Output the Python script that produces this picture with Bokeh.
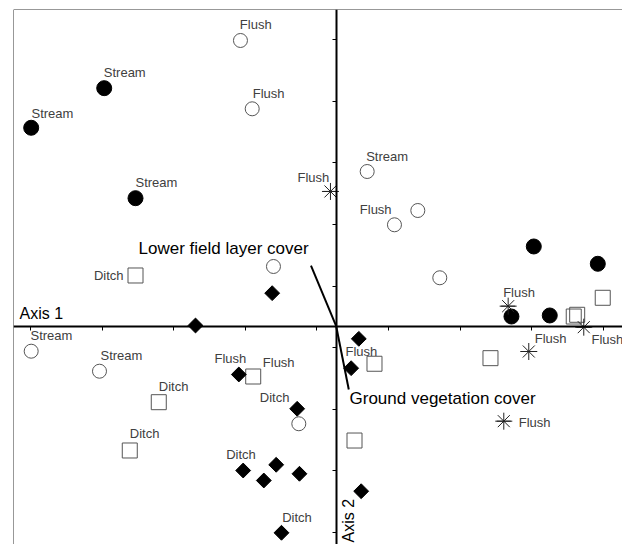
import numpy as np
from bokeh.plotting import figure
from bokeh.models import LinearAxis, FixedTicker, CustomJSTickFormatter, Span, Grid
from bokeh.core.properties import value
from bokeh.embed import file_html
from bokeh.resources import INLINE

# ---- sample scores (Axis 1, Axis 2) ----
filled_circle_x = [-3.240, -4.260, -2.803, 2.760, 3.654, 2.448, 2.983]
filled_circle_y = [3.864, 3.221, 2.078, 1.294, 1.013, 0.157, 0.174]

open_circle_x = [-1.337, -1.173, 0.433, 0.814, 1.140, -0.876, 1.447, -4.260, -3.306, -0.522]
open_circle_y = [4.638, 3.529, 2.511, 1.646, 1.878, 0.969, 0.786, -0.406, -0.731, -1.584]

square_x = [-2.803, 3.723, 3.318, 3.366, 2.155, 0.535, -1.159, -2.478, -2.883, 0.256]
square_y = [0.823, 0.461, 0.157, 0.185, -0.519, -0.610, -0.817, -1.234, -2.018, -1.856]

diamond_x = [-0.894, -1.965, 0.316, 0.209, -1.360, -0.545, -1.299, -1.011, -0.838, -0.513, 0.349, -0.764]
diamond_y = [0.536, 0.011, -0.205, -0.682, -0.784, -1.341, -2.343, -2.505, -2.250, -2.396, -2.679, -3.354]

star_x = [-0.080, 2.402, 3.458, 2.690, 2.341]
star_y = [2.187, 0.325, -0.016, -0.411, -1.542]

# ---- sample labels ----
label_text = ["Flush", "Stream", "Flush", "Stream", "Stream", "Flush", "Stream", "Flush",
              "Ditch", "Flush", "Stream", "Stream", "Flush", "Flush", "Flush", "Flush",
              "Flush", "Ditch", "Ditch", "Ditch", "Ditch", "Flush", "Ditch"]
label_x = [-1.346, -3.246, -1.165, -4.256, -2.803, -0.540, 0.419, 0.330,
           -3.383, 2.332, -4.270, -3.292, -1.700, -1.025, 0.130, 2.774,
           3.566, -2.478, -1.067, -2.883, -1.536, 2.550, -0.754]
label_y = [4.893, 4.114, 3.773, 3.458, 2.328, 2.419, 2.760, 1.890,
           0.823, 0.552, -0.151, -0.476, -0.529, -0.594, -0.411, -0.205,
           -0.221, -0.974, -1.153, -1.747, -2.088, -1.558, -3.101]

# ---- environmental variables (arrows) ----
env_names = ["Lower field layer cover", "Ground vegetation cover"]
env_x = [-0.352, 0.176]
env_y = [0.985, -1.028]
env_label_x = [-2.761, 0.186]
env_label_y = [1.256, -1.169]

# ---- axes ----
x_ticks = [-4.27, -3.27, -2.27, -1.27, -0.27, 0.73, 1.73, 2.73, 3.73]
y_ticks = [4.65, 3.65, 2.65, 1.65, 0.65, -0.35, -1.35, -2.35, -3.35]
x_lim = (-4.507, 3.999)
y_lim = (-3.544, 5.141)
axis_titles = ["Axis 1", "Axis 2"]
axis1_pos = (-4.423, 0.201)
axis2_pos = (0.168, -3.51)

FONT = value("Liberation Sans")

p = figure(width=622, height=544, x_range=x_lim, y_range=y_lim,
           output_backend="svg", toolbar_location=None,
           x_axis_location=None, y_axis_location=None,
           min_border_left=13, min_border_right=0, min_border_top=9, min_border_bottom=0)
p.outline_line_color = None
p.background_fill_color = "white"
p.border_fill_color = "white"
for g in p.select(type=Grid):
    g.visible = False

blank = CustomJSTickFormatter(code="return ''")
xa = LinearAxis(fixed_location=0, ticker=FixedTicker(ticks=x_ticks), formatter=blank)
ya = LinearAxis(fixed_location=0, ticker=FixedTicker(ticks=y_ticks), formatter=blank)
for a in (xa, ya):
    a.axis_line_width = 2
    a.axis_line_color = "black"
    a.major_tick_in = 0
    a.major_tick_out = 4
    a.major_tick_line_color = "black"
    a.major_tick_line_width = 1
    a.minor_tick_line_color = None
    a.major_label_text_font_size = "0px"
p.add_layout(xa, "below")
p.add_layout(ya, "left")

# frame (left, right, top)
frame_col = "#333333"
p.add_layout(Span(location=x_lim[0], dimension="height", line_color=frame_col, line_width=1))
p.add_layout(Span(location=x_lim[1], dimension="height", line_color=frame_col, line_width=1))
p.add_layout(Span(location=y_lim[1], dimension="width", line_color=frame_col, line_width=1))

# arrows for environmental variables
p.segment(x0=[0, 0], y0=[0, 0], x1=env_x, y1=env_y, line_color="black", line_width=2)

# markers
p.scatter(open_circle_x, open_circle_y, marker="circle", size=14,
          fill_color=None, line_color="#555555", line_width=1)
p.scatter(square_x, square_y, marker="square", size=15,
          fill_color=None, line_color="#555555", line_width=1)
p.scatter(filled_circle_x, filled_circle_y, marker="circle", size=15,
          fill_color="black", line_color="black")
p.scatter(diamond_x, diamond_y, marker="square", size=10.5, angle=np.pi / 4,
          fill_color="black", line_color="black")
p.scatter(star_x, star_y, marker="asterisk", size=17, line_color="#222222", line_width=1)
p.scatter(star_x, star_y, marker="dash", size=14, line_color="#222222", line_width=1)

# labels
p.text(label_x, label_y, text=label_text, text_font=FONT, text_font_size="13px",
       text_color="#404040", text_align="left", text_baseline="middle")
p.text(env_label_x, env_label_y, text=env_names, text_font=FONT, text_font_size="17px",
       text_color="black", text_align="left", text_baseline="middle")
p.text([axis1_pos[0]], [axis1_pos[1]], text=[axis_titles[0]], text_font=FONT,
       text_font_size="16px", text_color="black", text_align="left", text_baseline="middle")
p.text([axis2_pos[0]], [axis2_pos[1]], text=[axis_titles[1]], text_font=FONT,
       text_font_size="16px", text_color="black", text_align="left", text_baseline="middle",
       angle=np.pi / 2)

open("out.html", "w").write(file_html(p, INLINE))
